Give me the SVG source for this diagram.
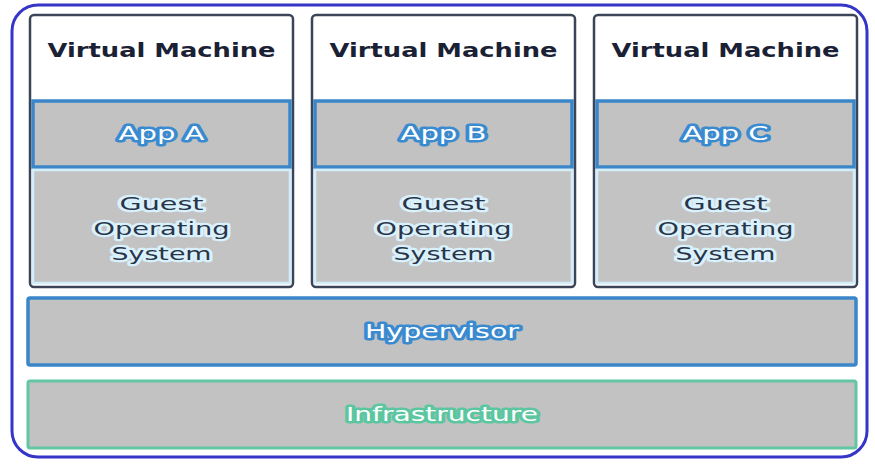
<svg xmlns="http://www.w3.org/2000/svg" width="875" height="465" viewBox="0 0 875 465">
  <style>
    .frame { fill: #ffffff; stroke: #3535c8; stroke-width: 3; }
    .vm { fill: #ffffff; stroke: #3b4557; stroke-width: 2.5; }
    .app { fill: #c2c2c2; stroke: #3a86c9; stroke-width: 3.5; }
    .os { fill: #c3c3c3; stroke: #d3eefa; stroke-width: 2.5; }
    .hyp { fill: #c2c2c2; stroke: #3a86c9; stroke-width: 3.5; }
    .infra { fill: #c2c2c2; stroke: #62c6a3; stroke-width: 3; }
    text { font-family: "DejaVu Sans", "Liberation Sans", sans-serif; text-anchor: middle; }
    .title { fill: #1b2134; font-size: 20px; font-weight: 700; }
    .lbl { fill: #ffffff; font-size: 19px; font-weight: 400; paint-order: stroke; stroke-width: 5; stroke-linejoin: round; }
    .blue { stroke: #3a8ad0; }
    .green { stroke: #5cc6a0; }
    .guest { fill: #2a3447; font-size: 18px; font-weight: 400; paint-order: stroke; stroke: #d9f1fc; stroke-width: 4.5; stroke-linejoin: round; }
  </style>

  <!-- host frame -->
  <rect class="frame" x="12" y="5" width="855" height="452" rx="26"/>

  <!-- virtual machines -->
  <g id="vm-a">
    <rect class="vm" x="30" y="15" width="263" height="272" rx="4"/>
    <text class="title" x="161.5" y="57" textLength="228" lengthAdjust="spacingAndGlyphs">Virtual Machine</text>
    <rect class="app" x="33" y="101" width="257" height="66"/>
    <text class="lbl blue" x="161.5" y="140" textLength="86" lengthAdjust="spacingAndGlyphs">App A</text>
    <rect class="os" x="33" y="170" width="257" height="113"/>
    <text class="guest" x="161.5" y="210" textLength="84" lengthAdjust="spacingAndGlyphs">Guest</text>
    <text class="guest" x="161.5" y="235" textLength="136" lengthAdjust="spacingAndGlyphs">Operating</text>
    <text class="guest" x="161.5" y="260" textLength="100" lengthAdjust="spacingAndGlyphs">System</text>
  </g>

  <g id="vm-b">
    <rect class="vm" x="312" y="15" width="263" height="272" rx="4"/>
    <text class="title" x="443.5" y="57" textLength="228" lengthAdjust="spacingAndGlyphs">Virtual Machine</text>
    <rect class="app" x="315" y="101" width="257" height="66"/>
    <text class="lbl blue" x="443.5" y="140" textLength="86" lengthAdjust="spacingAndGlyphs">App B</text>
    <rect class="os" x="315" y="170" width="257" height="113"/>
    <text class="guest" x="443.5" y="210" textLength="84" lengthAdjust="spacingAndGlyphs">Guest</text>
    <text class="guest" x="443.5" y="235" textLength="136" lengthAdjust="spacingAndGlyphs">Operating</text>
    <text class="guest" x="443.5" y="260" textLength="100" lengthAdjust="spacingAndGlyphs">System</text>
  </g>

  <g id="vm-c">
    <rect class="vm" x="594" y="15" width="263" height="272" rx="4"/>
    <text class="title" x="725.5" y="57" textLength="228" lengthAdjust="spacingAndGlyphs">Virtual Machine</text>
    <rect class="app" x="597" y="101" width="257" height="66"/>
    <text class="lbl blue" x="725.5" y="140" textLength="86" lengthAdjust="spacingAndGlyphs">App C</text>
    <rect class="os" x="597" y="170" width="257" height="113"/>
    <text class="guest" x="725.5" y="210" textLength="84" lengthAdjust="spacingAndGlyphs">Guest</text>
    <text class="guest" x="725.5" y="235" textLength="136" lengthAdjust="spacingAndGlyphs">Operating</text>
    <text class="guest" x="725.5" y="260" textLength="100" lengthAdjust="spacingAndGlyphs">System</text>
  </g>

  <!-- shared layers -->
  <g id="hypervisor">
    <rect class="hyp" x="28" y="298" width="828" height="67" rx="2"/>
    <text class="lbl blue" x="442" y="338" textLength="154" lengthAdjust="spacingAndGlyphs">Hypervisor</text>
  </g>

  <g id="infrastructure">
    <rect class="infra" x="28" y="381" width="828" height="67" rx="2"/>
    <text class="lbl green" x="442" y="421" textLength="192" lengthAdjust="spacingAndGlyphs">Infrastructure</text>
  </g>

  <g id="connectors"/>
</svg>
